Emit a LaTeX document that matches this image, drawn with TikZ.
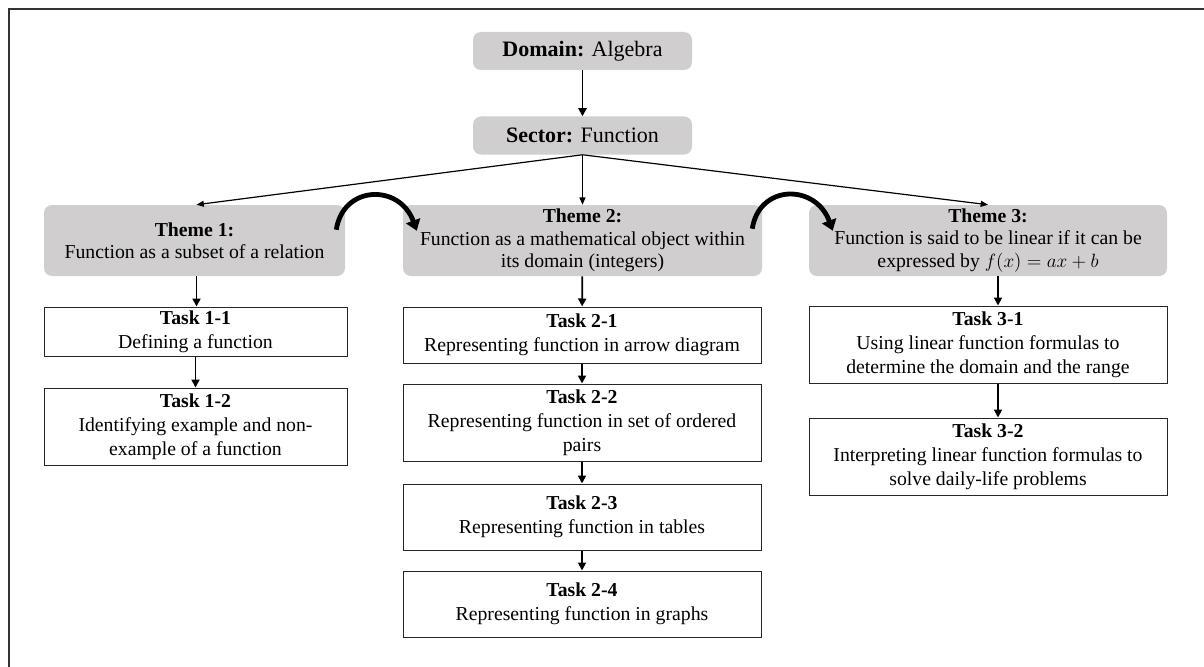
\documentclass[tikz,border=0pt]{standalone}
\usepackage{fontspec}
\setmainfont{Liberation Serif}
\usetikzlibrary{arrows.meta}
\definecolor{boxgray}{RGB}{208,206,206}
\newcommand\pxu[1]{#1*0.75pt}
\begin{document}
\begin{tikzpicture}[x=0.75pt,y=-0.75pt,
  topbox/.style={fill=boxgray, rounded corners=6pt, inner sep=0pt, align=center,
    font=\fontsize{16.5}{19}\selectfont, minimum width=\pxu{219}, minimum height=\pxu{38}},
  themebox/.style={fill=boxgray, rounded corners=6pt, inner sep=0pt, align=center,
    font=\fontsize{14.8}{16.8}\selectfont, minimum height=\pxu{71}},
  taskbox/.style={draw=black!85, line width=0.75pt, fill=white, inner sep=0pt, align=center,
    font=\fontsize{14.8}{18}\selectfont},
  varrow/.style={line width=1.4pt, -{Triangle[length=6pt,width=6pt]}},
  sarrow/.style={line width=0.9pt, -{Triangle[length=5.5pt,width=4.5pt]}},
  curvarrow/.style={line width=3.6pt, -{Triangle[length=8pt,width=11pt]}}
]
\useasboundingbox (0,0) rectangle (1204,667);
\draw[line width=1.6pt, black!80] (9,667) -- (9,9) -- (1204,9);

\node[topbox] (dom) at (582.5,51) {\textbf{Domain:} Algebra};
\node[topbox] (sec) at (582.5,135.5) {\textbf{Sector:} Function};

\node[themebox, minimum width=\pxu{301}] (th1) at (194.5,240.5)
  {\textbf{Theme 1:}\\Function as a subset of a relation};
\node[themebox, minimum width=\pxu{359}] (th2) at (582.5,240.5)
  {\textbf{Theme 2:}\\Function as a mathematical object within\\its domain (integers)};
\node[themebox, minimum width=\pxu{358}] (th3) at (988,240.5)
  {\textbf{Theme 3:}\\Function is said to be linear if it can be\\expressed by $f(x)=ax+b$};

\node[taskbox, minimum width=\pxu{303}, minimum height=\pxu{49}] (t11) at (195.5,331.5)
  {\textbf{Task 1-1}\\Defining a function};
\node[taskbox, minimum width=\pxu{303}, minimum height=\pxu{77}] (t12) at (195.5,426.5)
  {\textbf{Task 1-2}\\Identifying example and non-\\example of a function};

\node[taskbox, minimum width=\pxu{358}, minimum height=\pxu{56}] (t21) at (582,335)
  {\textbf{Task 2-1}\\Representing function in arrow diagram};
\node[taskbox, minimum width=\pxu{358}, minimum height=\pxu{77}] (t22) at (582,422.5)
  {\textbf{Task 2-2}\\Representing function in set of ordered\\pairs};
\node[taskbox, minimum width=\pxu{358}, minimum height=\pxu{66}] (t23) at (582,517)
  {\textbf{Task 2-3}\\Representing function in tables};
\node[taskbox, minimum width=\pxu{358}, minimum height=\pxu{66}] (t24) at (582,604)
  {\textbf{Task 2-4}\\Representing function in graphs};

\node[taskbox, minimum width=\pxu{358}, minimum height=\pxu{77}] (t31) at (988,344.5)
  {\textbf{Task 3-1}\\Using linear function formulas to\\determine the domain and the range};
\node[taskbox, minimum width=\pxu{358}, minimum height=\pxu{77}] (t32) at (988,456.5)
  {\textbf{Task 3-2}\\Interpreting linear function formulas to\\solve daily-life problems};

% connectors
\draw[varrow] (dom) -- (sec);
\draw[sarrow] (sec.south) -- ([xshift=\pxu{2}]th1.north);
\draw[sarrow] (sec.south) -- (th2.north);
\draw[sarrow] (sec.south) -- (th3.north);

\draw[varrow] ([xshift=\pxu{2}]th1.south) -- ([xshift=\pxu{1}]t11.north);
\draw[varrow] (t11) -- (t12);
\draw[varrow] (th2) -- (t21);
\draw[varrow] (t21) -- (t22);
\draw[varrow] (t22) -- (t23);
\draw[varrow] (t23) -- (t24);
\draw[varrow] ([xshift=\pxu{10}]th3.south) -- ([xshift=\pxu{10}]t31.north);
\draw[varrow] ([xshift=\pxu{10}]t31.south) -- ([xshift=\pxu{10}]t32.north);

\draw[curvarrow] ([xshift=\pxu{-9},yshift=\pxu{-25}]th1.north east)
  .. controls +(7,-45) and +(-17,-47) .. ([xshift=\pxu{14},yshift=\pxu{-26}]th2.north west);
\draw[curvarrow] ([xshift=\pxu{-10},yshift=\pxu{-24}]th2.north east)
  .. controls +(7,-45) and +(-17,-47) .. ([xshift=\pxu{24},yshift=\pxu{-26}]th3.north west);
\end{tikzpicture}
\end{document}
